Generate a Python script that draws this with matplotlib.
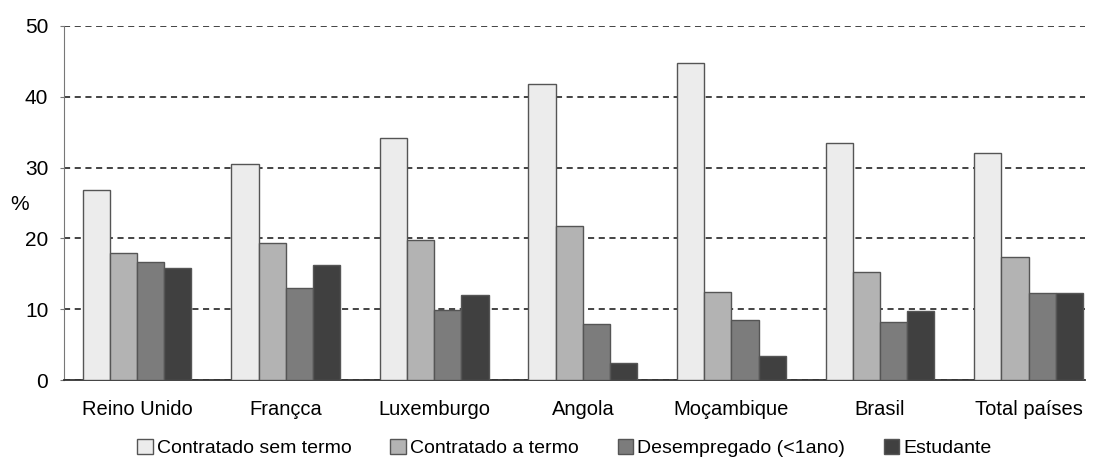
import numpy as np
import matplotlib.pyplot as plt

plt.rcParams['font.family'] = ['Liberation Sans', 'DejaVu Sans']

paises = ['Reino Unido', 'Françca', 'Luxemburgo', 'Angola', 'Moçambique', 'Brasil', 'Total países']
sem_termo = [26.8, 30.5, 34.2, 41.8, 44.8, 33.5, 32.1]
a_termo = [17.9, 19.3, 19.8, 21.7, 12.4, 15.3, 17.4]
desempregado = [16.7, 13.0, 9.9, 7.9, 8.5, 8.2, 12.3]
estudante = [15.8, 16.3, 12.0, 2.4, 3.4, 9.7, 12.3]

series = [
    ('Contratado sem termo', sem_termo, '#ececec'),
    ('Contratado a termo', a_termo, '#b3b3b3'),
    ('Desempregado (<1ano)', desempregado, '#7c7c7c'),
    ('Estudante', estudante, '#404040'),
]

fig = plt.figure(figsize=(10.96, 4.62), dpi=100)
ax = fig.add_axes([0.058, 0.177, 0.932, 0.767])

x = np.arange(len(paises))
w = 0.183
for i, (nome, vals, cor) in enumerate(series):
    ax.bar(x + (i - 1.5) * w, vals, w, color=cor, edgecolor='#555555',
           linewidth=1.0, label=nome, zorder=3)

ax.set_ylim(0, 50)
ax.set_xlim(-0.495, 6.38)
ax.set_yticks(range(0, 51, 10))
ax.yaxis.grid(True, linestyle=(0, (4, 3)), color='#111111', linewidth=1.1, zorder=0)
ax.set_axisbelow(True)

for s in ['top', 'right']:
    ax.spines[s].set_visible(False)
ax.spines['left'].set_color('#777777')
ax.spines['bottom'].set_color('#333333')
ax.spines['bottom'].set_linewidth(1.3)

ax.set_xticks(x)
ax.set_xticklabels(paises, fontsize=14.5)
ax.tick_params(axis='x', length=0, pad=14)
ax.tick_params(axis='y', labelsize=15, length=3, color='#777777', pad=8)

ax.set_ylabel('%', fontsize=15, rotation=0, labelpad=14)
ax.yaxis.set_label_coords(-0.043, 0.47)

fig.legend(loc='center', bbox_to_anchor=(0.515, 0.03), ncol=4, frameon=False,
           fontsize=14, handlelength=0.8, handleheight=0.8, handletextpad=0.2,
           columnspacing=2.0)

fig.savefig('out.png', dpi=100)
